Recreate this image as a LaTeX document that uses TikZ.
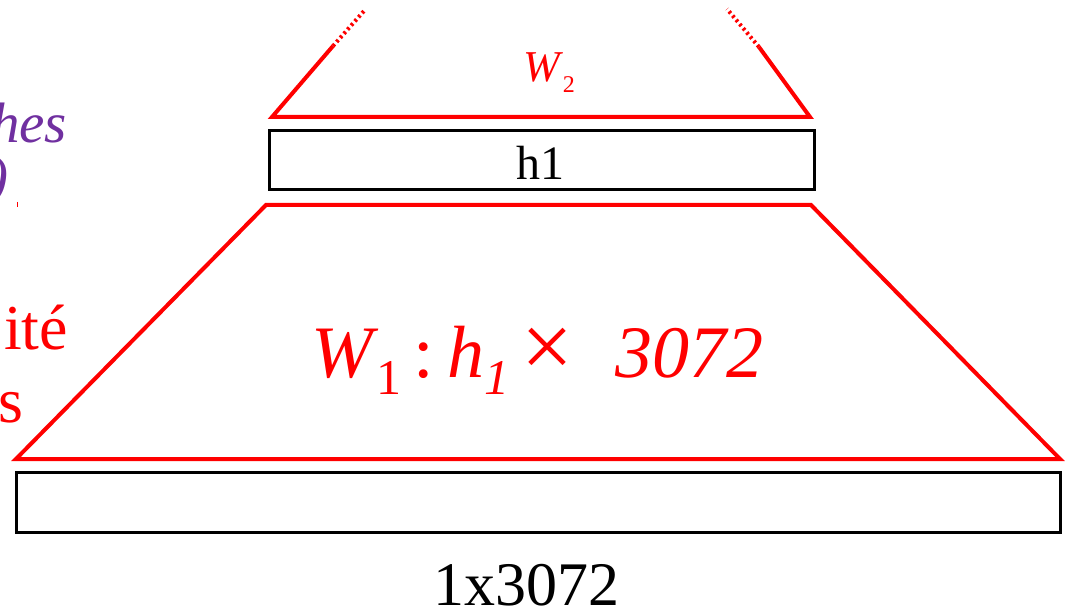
\documentclass[tikz,border=0pt]{standalone}
\usepackage{fontspec}
\setmainfont{Liberation Serif}
\definecolor{myred}{RGB}{255,0,0}
\definecolor{mypurple}{RGB}{112,48,160}
\begin{document}
\begin{tikzpicture}[x=1pt,y=-1pt,
  layerbox/.style={draw=black,line width=3pt,inner sep=0pt,outer sep=0pt},
  redline/.style={draw=myred,line width=4pt,line join=miter},
  reddots/.style={draw=myred,line width=4pt,dash pattern=on 2.5pt off 3pt},
  lbl/.style={inner sep=0pt,outer sep=0pt}]
\useasboundingbox (0,0) rectangle (1069,612);
% boxes
\node[layerbox,minimum width=1044pt,minimum height=60pt] (in) at (538,502) {};
\node[layerbox,minimum width=545pt,minimum height=59pt] (h1) at (541.5,160.5) {};
\node[lbl,anchor=base] (h1t) at (540,180) {\fontsize{48}{48}\selectfont h1};
\node[lbl,anchor=base] (inlbl) at (526,605) {\fontsize{62}{62}\selectfont 1x3072};
% trapezoid W1
\coordinate (bl) at (16,459);
\coordinate (br) at (1060,459);
\coordinate (tr) at (811,205);
\coordinate (tl) at (266,205);
\draw[redline] (bl) -- (br) -- (tr) -- (tl) -- cycle;
% W2 fan
\coordinate (al) at (272,117);
\coordinate (ar) at (810,117);
\coordinate (sl) at (333,46);
\coordinate (el) at (364,11);
\coordinate (sr) at (759,47);
\coordinate (er) at (727,9);
\draw[redline] (sl) -- (al) -- (ar) -- (sr);
\draw[reddots] (sl) -- (el);
\draw[reddots] (sr) -- (er);
% labels
\node[lbl,anchor=base west,text=myred] (w1) at (311,378) {\fontsize{74}{74}\selectfont
  \textit{W}\hspace{-2pt}\raisebox{-17pt}{\fontsize{50}{50}\selectfont 1}\hspace{12pt}:\hspace{14pt}\textit{h}\raisebox{-17pt}{\fontsize{50}{50}\selectfont\textit{1}}\hspace{12pt}{\fontsize{92}{74}\selectfont ×}\hspace{42pt}\textit{3072}};
\node[lbl,anchor=base west,text=myred] (w2) at (523,82) {\fontsize{44}{44}\selectfont\textit{W}\raisebox{-11pt}{\fontsize{24}{24}\selectfont 2}};
% clipped side texts
\node[lbl,anchor=base east,text=mypurple] (hes) at (67,143) {\fontsize{57}{57}\selectfont\textit{hes}};
\node[lbl,anchor=base east,text=mypurple] (par) at (8,196) {\fontsize{57}{57}\selectfont\textit{)}};
\draw[myred,line width=1pt] (17,202) -- (17,207);
\node[lbl,anchor=base east,text=myred] (ite) at (68,350) {\fontsize{64}{64}\selectfont ité};
\node[lbl,anchor=base east,text=myred] (s) at (23,422) {\fontsize{64}{64}\selectfont s};
\end{tikzpicture}
\end{document}
